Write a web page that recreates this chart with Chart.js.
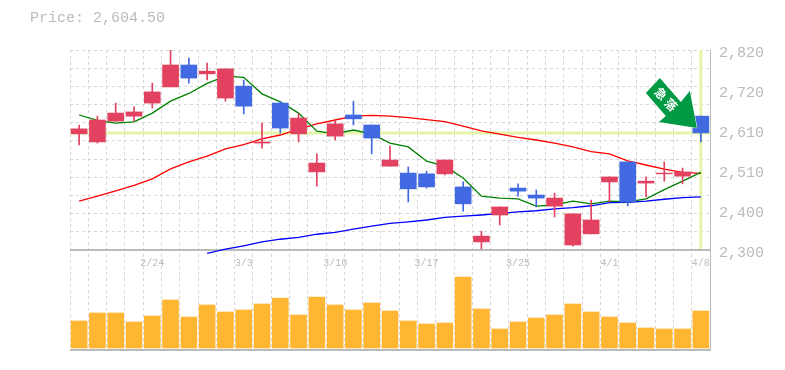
<!DOCTYPE html>
<html>
<head>
<meta charset="utf-8">
<script src="https://cdn.jsdelivr.net/npm/chart.js@4"></script>
<style>
html, body { margin: 0; padding: 0; background: #fff; }
#wrap { width: 785px; height: 370px; }
</style>
</head>
<body>
<div id="wrap"><canvas id="chart"></canvas></div>
<script>
const dates = ['2/18','2/19','2/20','2/21','2/24','2/25','2/26','2/27','2/28','3/3','3/4','3/5','3/6','3/7','3/10','3/11','3/12','3/13','3/14','3/17','3/18','3/19','3/21','3/24','3/25','3/26','3/27','3/28','3/31','4/1','4/2','4/3','4/4','4/7','4/8'];
const shownDates = ['2/24','3/3','3/10','3/17','3/25','4/1','4/8'];

const opens  = [2602,2581,2635,2648,2682,2724,2781,2758,2695,2726,2578,2682,2602,2503,2596,2651,2625,2518,2500,2498,2498,2464,2321,2391,2461,2443,2414,2313,2342,2477,2529,2474,2498,2492,2648];
const closes = [2615,2638,2656,2659,2711,2781,2747,2765,2771,2674,2581,2617,2643,2526,2628,2641,2591,2534,2459,2464,2534,2420,2336,2412,2453,2435,2435,2394,2378,2490,2425,2479,2500,2503,2604.5];
const highs  = [2625,2648,2682,2672,2734,2820,2799,2786,2771,2742,2630,2687,2654,2550,2638,2687,2625,2570,2516,2505,2534,2477,2349,2412,2472,2456,2448,2394,2430,2490,2529,2490,2529,2513,2648];
const lows   = [2573,2578,2635,2635,2669,2724,2734,2742,2687,2654,2565,2604,2581,2466,2586,2625,2550,2518,2425,2461,2495,2401,2303,2365,2440,2412,2386,2310,2342,2425,2415,2438,2479,2472,2581];

const ma5  = [2651,2637,2630,2633,2656,2687,2707,2733,2752,2749,2706,2685,2656,2609,2602,2612,2602,2578,2568,2531,2518,2487,2440,2435,2433,2414,2417,2427,2420,2427,2425,2433,2457,2479,2502];
const ma25 = [2427,2440,2454,2468,2485,2511,2529,2544,2563,2574,2589,2599,2614,2628,2638,2648,2650,2648,2644,2639,2634,2622,2610,2601,2593,2586,2578,2568,2556,2550,2532,2521,2510,2502,2499];
const ma75 = [null,null,null,null,null,null,null,2291,2302,2311,2321,2328,2333,2341,2346,2354,2362,2369,2373,2378,2385,2388,2391,2395,2399,2402,2407,2410,2415,2423,2424,2427,2432,2436,2438];

const volumes = [27,35,35,26,32,48,31,43,36,38,44,50,33,51,43,38,45,37,27,24,25,71,39,19,26,30,33,44,36,31,25,20,19,19,37];

const priceLabels = ['2,300','2,400','2,510','2,610','2,720','2,820'];
const priceLabelAt = [2300,2404,2508,2612,2716,2820];
const gridLevels = [2347,2395,2442,2489,2536,2584,2631,2678,2725,2773,2820];

const RED = '#e2425f', BLUE = '#4169e1', GRID = '#d6d6d6', AXIS = '#bbbbbb', BAND = '#e4f5a8';
const FONT = '"Liberation Mono", "DejaVu Sans Mono", monospace';
const LABEL_SHIFT = 8; // labels sit about 3px under their level

const candleColors = opens.map((o, i) => closes[i] < o ? BLUE : RED);
const lastClose = closes[closes.length - 1];

const overlay = {
    id: 'overlay',
    beforeDatasetsDraw(chart) {
        const { ctx, chartArea, scales } = chart;
        const px = scales.x.getPixelForValue(dates.length - 1);
        const py = scales.y.getPixelForValue(lastClose);
        ctx.save();
        ctx.strokeStyle = BAND;
        ctx.lineWidth = 3;
        ctx.beginPath();
        ctx.moveTo(chartArea.left, py);
        ctx.lineTo(chartArea.right, py);
        ctx.moveTo(px, scales.y.top);
        ctx.lineTo(px, scales.y.bottom - 1);
        ctx.stroke();
        ctx.restore();
    },
    afterDatasetsDraw(chart) {
        const { ctx, scales } = chart;
        const tipX = scales.x.getPixelForValue(dates.length - 1) - 4;
        const tipY = scales.y.getPixelForValue(lastClose) - 5;
        // arrow outline, relative to its tip
        const pts = [[0,0],[-38,-6],[-31,-12],[-51,-35],[-37,-50],[-16,-26],[-7,-37]];
        ctx.save();
        ctx.beginPath();
        pts.forEach((p, i) => i ? ctx.lineTo(tipX + p[0], tipY + p[1]) : ctx.moveTo(tipX + p[0], tipY + p[1]));
        ctx.closePath();
        ctx.fillStyle = '#009944';
        ctx.strokeStyle = '#ffffff';
        ctx.lineWidth = 1;
        ctx.stroke();
        ctx.fill();
        ctx.fillStyle = '#ffffff';
        ctx.font = 'bold 12px "Noto Sans CJK JP"';
        ctx.textAlign = 'center';
        ctx.textBaseline = 'middle';
        [['急', -36, -34], ['落', -26, -23]].forEach(([ch, dx, dy]) => {
            ctx.save();
            ctx.translate(tipX + dx, tipY + dy);
            ctx.rotate(Math.PI / 4);
            ctx.fillText(ch, 0, 0);
            ctx.restore();
        });
        ctx.restore();

        ctx.save();
        ctx.fillStyle = AXIS;
        ctx.font = '15px ' + FONT;
        ctx.textBaseline = 'middle';
        ctx.fillText('Price: ' + lastClose.toLocaleString('en-US', { minimumFractionDigits: 2 }), 30, 18);
        ctx.restore();
    }
};

new Chart(document.getElementById('chart'), {
    data: {
        labels: dates,
        datasets: [
            { type: 'bar', data: opens.map((o, i) => [o, closes[i]]), backgroundColor: candleColors, barThickness: 16, grouped: false, order: 1, yAxisID: 'y' },
            { type: 'bar', data: lows.map((l, i) => [l, highs[i]]), backgroundColor: candleColors, barThickness: 1, grouped: false, order: 2, yAxisID: 'y' },
            { type: 'line', data: ma5, borderColor: '#008000', borderWidth: 1.3, pointRadius: 0, order: 3, yAxisID: 'y' },
            { type: 'line', data: ma25, borderColor: '#ff0000', borderWidth: 1.3, pointRadius: 0, order: 3, yAxisID: 'y' },
            { type: 'line', data: ma75, borderColor: '#0000ff', borderWidth: 1.3, pointRadius: 0, order: 3, clip: false, yAxisID: 'y' },
            { type: 'bar', data: volumes, backgroundColor: '#ffb733', barThickness: 16, grouped: false, order: 4, yAxisID: 'yVol' }
        ]
    },
    options: {
        responsive: true,
        maintainAspectRatio: false,
        animation: false,
        layout: { padding: { left: 70, top: 50, right: 0, bottom: 20 } },
        plugins: { legend: { display: false }, title: { display: false }, tooltip: { enabled: false } },
        scales: {
            x: {
                position: { yVol: 98 },
                offset: true,
                grid: { color: GRID, offset: true, drawTicks: false, lineWidth: 1 },
                border: { display: false, dash: [3, 3] },
                ticks: {
                    autoSkip: false, maxRotation: 0, padding: 7,
                    color: AXIS, font: { family: FONT, size: 10 },
                    callback(value) {
                        const d = dates[value];
                        return shownDates.includes(d) ? d : '';
                    }
                }
            },
            y: {
                position: 'right',
                stack: 'panes',
                stackWeight: 2,
                min: 2300,
                max: 2820,
                afterFit(scale) { scale.width = 75; },
                afterBuildTicks(scale) {
                    const labelled = priceLabelAt.map(v => ({ value: v - LABEL_SHIFT }));
                    scale.ticks = labelled.concat(gridLevels.map(v => ({ value: v })));
                },
                grid: {
                    drawTicks: false,
                    color: GRID,
                    lineWidth: ctx => ctx.tick && ctx.tick.label === '' ? 1 : 0
                },
                border: { display: true, color: AXIS, width: 1, dash: [3, 3] },
                ticks: {
                    autoSkip: false, padding: 9,
                    color: AXIS, font: { family: FONT, size: 15 },
                    callback(value, i) { return i < priceLabels.length ? priceLabels[i] : ''; }
                }
            },
            yVol: {
                position: 'right',
                stack: 'panes',
                stackWeight: 1,
                min: -2,
                max: 98,
                afterFit(scale) { scale.width = 75; },
                afterBuildTicks(scale) { scale.ticks = [{ value: -2 }, { value: 98 }]; },
                grid: { drawTicks: false, color: AXIS, lineWidth: 2 },
                border: { display: true, color: AXIS, width: 1 },
                ticks: { color: 'transparent', callback() { return ''; } }
            }
        }
    },
    plugins: [overlay]
});
</script>
</body>
</html>
